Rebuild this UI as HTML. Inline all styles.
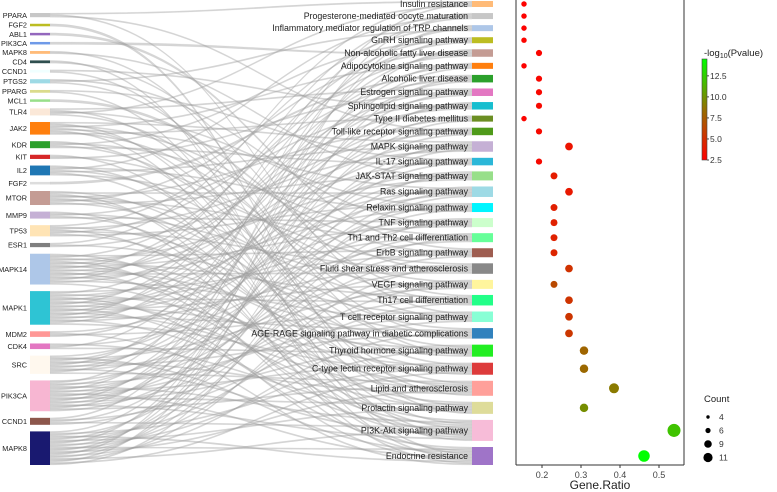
<!DOCTYPE html>
<html><head><meta charset="utf-8"><style>
body{margin:0;background:#fff;}
svg{display:block;font-family:"Liberation Sans",Arial,sans-serif;}
</style></head><body>
<svg id="chart" width="777" height="492" viewBox="0 0 777 492">
<g id="links"></g>
<g id="lnodes"></g>
<g id="rnodes"></g>
<g id="dotplot"></g>
<g id="legend"></g>
</svg>
<script>
const genes=["PPARA","FGF2","ABL1","PIK3CA","MAPK8","CD4","CCND1","PTGS2","PPARG","MCL1","TLR4","JAK2","KDR","KIT","IL2","FGF2","MTOR","MMP9","TP53","ESR1","MAPK14","MAPK1","MDM2","CDK4","SRC","PIK3CA","CCND1","MAPK8"];
const geneCounts=[3,1,1,1,2,2,2,3,2,1,5,9,5,3,7,1,10,5,8,3,22,24,4,4,13,22,5,24];
const geneColors=["#c7c7c7","#bcbd22","#9467bd","#6f9ae8","#ffbb78","#2f4f4f","#f0ffff","#9edae5","#dbdb8d","#98df8a","#fbe8d8","#ff7f0e","#2ca02c","#d62728","#1f77b4","#dddddd","#c49c94","#c5b0d5","#ffe4b5","#7f7f7f","#aec7e8","#2ec4d4","#ff9896","#e377c2","#fff8ee","#f7b6d2","#8c564b","#191970"];
const pathways=["Insulin resistance","Progesterone-mediated oocyte maturation","Inflammatory mediator regulation of TRP channels","GnRH signaling pathway","Non-alcoholic fatty liver disease","Adipocytokine signaling pathway","Alcoholic liver disease","Estrogen signaling pathway","Sphingolipid signaling pathway","Type II diabetes mellitus","Toll-like receptor signaling pathway","MAPK signaling pathway","IL-17 signaling pathway","JAK-STAT signaling pathway","Ras signaling pathway","Relaxin signaling pathway","TNF signaling pathway","Th1 and Th2 cell differentiation","ErbB signaling pathway","Fluid shear stress and atherosclerosis","VEGF signaling pathway","Th17 cell differentiation","T cell receptor signaling pathway","AGE-RAGE signaling pathway in diabetic complications","Thyroid hormone signaling pathway","C-type lectin receptor signaling pathway","Lipid and atherosclerosis","Prolactin signaling pathway","PI3K-Akt signaling pathway","Endocrine resistance"];
const pathCounts=[4,4,4,4,5,4,5,5,5,4,5,7,5,6,7,6,6,6,6,7,6,7,7,7,8,8,10,8,14,12];
const pathPval=[2.6,2.6,2.6,2.7,2.8,2.6,2.9,2.9,3.0,2.7,3.0,3.6,3.0,4.0,3.8,4.2,4.3,4.3,4.5,5.2,6.5,5.3,5.4,5.5,8.0,8.2,9.0,9.8,12.0,14.5];
const pathColors=["#ffbb78","#c7c7c7","#aec7e8","#bcbd22","#c49c94","#ff7f0e","#2ca02c","#e377c2","#17becf","#6b8e23","#4f9a1a","#c5b0d5","#2bb7d8","#98df8a","#9edae5","#00f5ff","#ccffcc","#66ff99","#9e5d50","#888888","#fff59d","#22ff88","#88ffd5","#3182bd","#22ee22","#dd3b3b","#ffa09a","#dedc9a","#f7bcd8","#9f74c8"];
const totalGenes=26;
const xTicks=[0.2,0.3,0.4,0.5];
const cbTicks=[2.5,5.0,7.5,10.0,12.5];
const sizeLegend=[4,6,9,11];

const NS="http://www.w3.org/2000/svg";
function mk(tag,attrs,parent){const e=document.createElementNS(NS,tag);for(const k in attrs)e.setAttribute(k,attrs[k]);parent.appendChild(e);return e;}
function layout(counts,top,bottom,s,minH){const n=counts.length;const hs=counts.map(c=>Math.max(minH,c*s));const tot=hs.reduce((a,b)=>a+b,0);const g=(bottom-top-tot)/(n-1);let y=top;return hs.map(h=>{const r={y:y,h:h};y+=h+g;return r;});}
const L=layout(geneCounts,13,465,1.4,2.5), R=layout(pathCounts,1,465,1.5,0);
const LX0=30,LX1=50,RX0=472,RX1=493;
const lslots=[],rslots=[];
geneCounts.forEach((c,i)=>{const u=L[i].h/c;for(let k=0;k<c;k++)lslots.push({y:L[i].y+k*u,h:u});});
pathCounts.forEach((c,i)=>{const u=R[i].h/c;for(let k=0;k<c;k++)rslots.push({y:R[i].y+k*u,h:u});});
const N=rslots.length, linksG=document.getElementById('links');
for(let i=0;i<N;i++){
  const a=lslots[(i*71)%N], b=rslots[i]; const mx=(LX1+RX0)/2;
  const d=`M${LX1},${a.y} C${mx},${a.y} ${mx},${b.y} ${RX0},${b.y} L${RX0},${b.y+b.h} C${mx},${b.y+b.h} ${mx},${a.y+a.h} ${LX1},${a.y+a.h} Z`;
  const p=mk('path',{d:d,fill:'#9a9a9a','fill-opacity':0.42,stroke:'#b0b0b0','stroke-opacity':0.3,'stroke-width':0.3},linksG);
  
  
}
const lg=document.getElementById('lnodes');
genes.forEach((g,i)=>{
  const r=mk('rect',{x:LX0,y:L[i].y,width:LX1-LX0,height:Math.max(L[i].h,1),fill:geneColors[i]},lg);
  
  
  const t=mk('text',{x:LX0-3,y:L[i].y+L[i].h/2+2.7,'text-anchor':'end','font-size':7.3,fill:'#222'},lg);t.textContent=g;
  
  
});
const rg=document.getElementById('rnodes');
pathways.forEach((p,i)=>{
  const r=mk('rect',{x:RX0,y:R[i].y,width:RX1-RX0,height:R[i].h,fill:pathColors[i]},rg);
  
  
  const t=mk('text',{x:RX0-4,y:R[i].y+R[i].h/2+3,'text-anchor':'end','font-size':8.8,fill:'#222'},rg);t.textContent=p;
  
  
});
const PX0=516,PX1=684,PY1=465;
const xs=v=>542+(v-0.2)*390;
const rs=c=>1.2+c*0.38;
function pcol(v){const t=Math.max(0,Math.min(1,(v-2.5)/12));let r,g;
  if(t<0.5){const u=t/0.5;r=255+(150-255)*u;g=0+110*u;}else{const u=(t-0.5)/0.5;r=150*(1-u);g=110+145*u;}
  return `rgb(${Math.round(r)},${Math.round(g)},0)`;}
const dp=document.getElementById('dotplot');
mk('line',{x1:PX0,y1:0,x2:PX0,y2:PY1,stroke:'#333','stroke-width':1},dp);
mk('line',{x1:PX1,y1:0,x2:PX1,y2:PY1,stroke:'#333','stroke-width':1},dp);
mk('line',{x1:PX0,y1:PY1,x2:PX1,y2:PY1,stroke:'#333','stroke-width':1},dp);
xTicks.forEach(v=>{
  mk('line',{x1:xs(v),y1:PY1,x2:xs(v),y2:PY1+3,stroke:'#333'},dp);
  const t=mk('text',{x:xs(v),y:PY1+13,'text-anchor':'middle','font-size':9,fill:'#444'},dp);t.textContent=v.toFixed(1);
  
  
});
const xt=mk('text',{x:600,y:489,'text-anchor':'middle','font-size':12,fill:'#222'},dp);xt.textContent='Gene.Ratio';


pathways.forEach((p,i)=>{
  const c=mk('circle',{cx:xs(pathCounts[i]/totalGenes),cy:R[i].y+R[i].h/2,r:rs(pathCounts[i]),fill:pcol(pathPval[i])},dp);
  
  
});
const lgd=document.getElementById('legend');
const defs=mk('defs',{},lgd);
const grad=mk('linearGradient',{id:'cb',x1:0,y1:1,x2:0,y2:0},defs);
[0,0.25,0.5,0.75,1].forEach(t=>mk('stop',{offset:t,'stop-color':pcol(2.5+t*12)},grad));
const tt=mk('text',{x:704,y:56,'font-size':9.5,fill:'#222'},lgd);
tt.innerHTML='-log<tspan font-size="7" dy="2">10</tspan><tspan dy="-2">(Pvalue)</tspan>';


const cbTop=59,cbBot=160;
const cby=v=>cbBot-(v-2.5)/12*(cbBot-cbTop);
mk('rect',{x:702,y:cbTop,width:5,height:cbBot-cbTop,fill:'url(#cb)',stroke:'#444','stroke-width':0.6},lgd);
cbTicks.forEach(v=>{
  mk('line',{x1:707,y1:cby(v),x2:709,y2:cby(v),stroke:'#444'},lgd);
  const t=mk('text',{x:710,y:cby(v)+3,'font-size':8.5,fill:'#333'},lgd);t.textContent=v.toFixed(1);
  
  
});
const ct=mk('text',{x:704,y:402,'font-size':9.5,fill:'#222'},lgd);ct.textContent='Count';


sizeLegend.forEach((c,i)=>{
  const y=417+i*13.5;
  mk('circle',{cx:708,cy:y,r:c===4?1.7:c===6?2.6:c===9?3.8:4.6,fill:'#000'},lgd);
  const t=mk('text',{x:719,y:y+3,'font-size':8.5,fill:'#333'},lgd);t.textContent=c;
  
  
});
</script>
</body></html>
